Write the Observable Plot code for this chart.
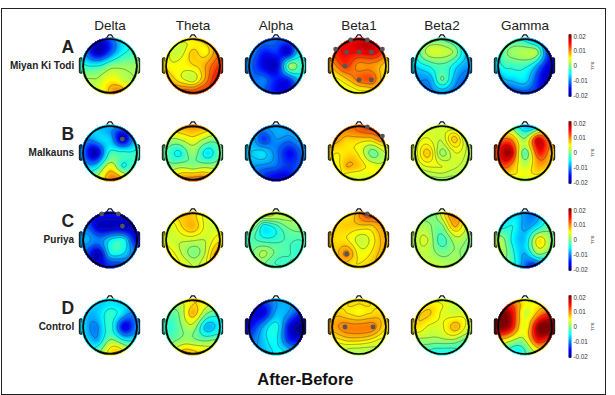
<!DOCTYPE html>
<html><head><meta charset="utf-8">
<style>
html,body{margin:0;padding:0;background:#fff}
#frame{position:absolute;left:1px;top:8px;width:603px;height:385px;border:1px solid #222;pointer-events:none}
svg{position:absolute;left:0;top:0;background:transparent}
</style>
<script src="https://cdn.jsdelivr.net/npm/d3@7"></script>
<script src="https://cdn.jsdelivr.net/npm/@observablehq/plot@0.6"></script>
</head><body><div id="chart"></div><div id="frame"></div>
<script>
const bands = ["Delta","Theta","Alpha","Beta1","Beta2","Gamma"];
const rows = ["A","B","C","D"];
const rowNames = ["Miyan Ki Todi","Malkauns","Puriya","Control"];
const electrodes = ["Fp1","Fp2","F7","F3","Fz","F4","F8","T3","C3","Cz","C4","T4","T5","P3","Pz","P4","T6","O1","O2"];
const electrodeX = [-.31,.31,-.87,-.46,0,.46,.87,-1,-.52,0,.52,1,-.87,-.46,0,.46,.87,-.31,.31];
const electrodeY = [.97,.97,.63,.52,.52,.52,.63,0,0,0,0,0,-.63,-.52,-.52,-.52,-.63,-.97,-.97];

// values in thousandths of an a.u., in the order of `electrodes`
const aDelta = [-15,-7,-11,-18,-12,-5,-3,-3,-4,0,1,1,2,2,5,3,2,4,10];
const aTheta = [5,7,5,3,7,5,10,6,5,6,9,13,9,5,3,9,14,12,13];
const aAlpha = [-11,-12,-9,-14,-13,-17,-6,-10,-15,-17,1,-4,-10,-10,-14,-14,-8,-12,-15];
const aBeta1 = [14,16,13,15,15,16,13,8,13,9,9,6,4,7,11,12,7,4,5];
const aBeta2 = [-1,-3,-2,3,3,1,-7,-7,-4,-2,-6,-9,-10,-9,-1,-8,-11,-10,-10];
const aGamma = [-3,-8,-3,1,2,1,-14,-6,-3,-3,-10,-17,-11,-7,-6,-13,-17,-13,-13];
const bDelta = [-7,-9,-7,-7,-7,-18,-8,-10,-18,-3,-3,-3,-5,-5,5,-4,-1,5,10];
const bTheta = [9,9,4,3,5,2,2,-1,-5,1,-6,-1,2,2,1,2,3,10,11];
const bAlpha = [-9,-9,-8,-13,-9,-10,-8,-7,-6,-10,-15,-10,-9,-10,-11,-13,-11,-14,-16];
const bBeta1 = [10,12,10,7,7,7,11,6,6,5,-1,3,5,8,7,5,5,4,4];
const bBeta2 = [3,3,3,4,3,7,2,3,7,1,4,2,2,4,4,3,2,1,1];
const bGamma = [-3,-7,8,9,1,16,8,13,18,-2,14,7,8,8,3,8,5,3,3];
const cDelta = [-15,-14,-13,-17,-18,-18,-17,-8,-10,-6,-5,-15,-13,-18,-6,-6,-9,-15,-13];
const cTheta = [8,5,4,6,8,4,3,4,3,3,3,6,6,3,0,3,9,4,3];
const cAlpha = [4,2,2,-5,-3,0,1,-2,-3,-3,-2,-2,0,2,-1,-2,-2,-1,-2];
const cBeta1 = [6,12,7,7,7,7,9,7,6,3,5,8,7,10,5,6,8,6,7];
const cBeta2 = [0,9,1,1,0,8,4,2,3,-3,2,0,2,2,0,1,0,3,2];
const cGamma = [-7,-10,-8,-4,-9,-6,-2,2,-4,-7,6,0,1,-3,-8,0,-3,-5,-14];
const dDelta = [-6,-6,-6,-7,-3,-6,-8,-6,-10,-3,-16,-9,-5,-8,1,-3,-3,1,7];
const dTheta = [4,6,0,1,8,1,0,-3,-1,2,-8,-5,0,1,1,0,2,8,6];
const dAlpha = [-11,-8,-15,-16,-8,-9,-12,-15,-9,-4,-16,-20,-10,-7,-5,-13,-13,-7,-5];
const dBeta1 = [6,6,6,6,5,6,6,8,10,10,10,6,4,6,6,5,3,2,2];
const dBeta2 = [4,3,5,7,4,3,3,6,4,4,8,3,0,1,1,1,-2,-4,-4];
const dGamma = [8,4,18,15,3,8,10,20,16,4,20,20,3,2,2,14,10,-5,2];

const maps = {
  A:[aDelta,aTheta,aAlpha,aBeta1,aBeta2,aGamma],
  B:[bDelta,bTheta,bAlpha,bBeta1,bBeta2,bGamma],
  C:[cDelta,cTheta,cAlpha,cBeta1,cBeta2,cGamma],
  D:[dDelta,dTheta,dAlpha,dBeta1,dBeta2,dGamma]
};
// significant electrodes per [row, band]
const marked = [
  ["A","Beta1",["Fp1","Fp2","F7","F3","Fz","F4","F8","C3","Pz","P4"]],
  ["B","Delta",["F4"]],
  ["B","Beta1",["Fp2","F8"]],
  ["C","Delta",["Fp1","Fp2","F4"]],
  ["C","Beta1",["Fp2","P3"]],
  ["D","Beta1",["C3","C4"]]
];
const colorbarTicks = [0.02,0.01,0,-0.01,-0.02];
const contourFractions = [.1,.3,.5,.7,.9]; // levels relative to each map's own range
const jetDomain = [-.02,-.015,-.005,.005,.015,.02];
const jetRange = ["#00007f","#0000ff","#00ffff","#ffff00","#ff0000","#7f0000"];

const samples = rows.flatMap(r => bands.flatMap((b,i) => {
  const vals = maps[r][i], lo = d3.min(vals), hi = d3.max(vals);
  return electrodes.map((e,k) => ({
    row:r, band:b, e, x:electrodeX[k], y:electrodeY[k], v:vals[k]/1000, level:(vals[k]-lo)/(hi-lo)
  }));
}));
const ears = rows.flatMap(r => bands.flatMap((b,i) => [7,11].map(k => ({
  row:r, band:b, side:k===7?-1:1, v:maps[r][i][k]/1000
}))));
const dots = marked.flatMap(([row,band,list]) => list.map(e => {
  const k = electrodes.indexOf(e); return {row,band,x:electrodeX[k],y:electrodeY[k]};
}));

// Biharmonic spline over the electrodes (what griddata "v4" does), masked to the head.
const EXT = 1.1;
function solve(A,b){
  const n=b.length; A=A.map(r=>r.slice()); b=b.slice();
  for(let i=0;i<n;i++){
    let p=i; for(let j=i+1;j<n;j++) if(Math.abs(A[j][i])>Math.abs(A[p][i])) p=j;
    [A[i],A[p]]=[A[p],A[i]]; [b[i],b[p]]=[b[p],b[i]];
    for(let j=i+1;j<n;j++){const f=A[j][i]/A[i][i]; for(let k=i;k<n;k++) A[j][k]-=f*A[i][k]; b[j]-=f*b[i];}
  }
  for(let i=n-1;i>=0;i--){for(let k=i+1;k<n;k++) b[i]-=A[i][k]*b[k]; b[i]/=A[i][i];}
  return b;
}
const green = d => { const q=d*d; return q<=1e-12?0:q*(Math.log(Math.sqrt(q))-1); };
const spline = maxR => (index,w,h,X,Y,V) => {
  const out = new Float64Array(w*h).fill(NaN);
  const ux = i => X[i]/w*2*EXT-EXT, uy = i => Y[i]/h*2*EXT-EXT;
  const pts = Array.from(index,i=>[ux(i),uy(i),+V[i]]);
  const A = pts.map(p=>pts.map(q=>green(Math.hypot(p[0]-q[0],p[1]-q[1]))));
  const wt = solve(A,pts.map(p=>p[2]));
  for(let j=0;j<h;j++) for(let i=0;i<w;i++){
    const x=(i+.5)/w*2*EXT-EXT, y=(j+.5)/h*2*EXT-EXT;
    if(Math.hypot(x,y)>maxR) continue;
    let s=0; for(let k=0;k<pts.length;k++) s+=wt[k]*green(Math.hypot(x-pts[k][0],y-pts[k][1]));
    out[j*w+i]=s;
  }
  return out;
};

const grid = {x:"x",y:"y",fx:"band",fy:"row",x1:-EXT,x2:EXT,y1:-EXT,y2:EXT};
const cbar = d3.range(-0.02,0.0201,0.0005);
const BARSCALE = 1.14/0.02, TICKSCALE = 1.1/0.02;

const chart = Plot.plot({
  width:615,height:395,
  marginLeft:67.4,marginRight:48.4,marginTop:20.2,marginBottom:24.2,
  fx:{domain:bands,axis:null,padding:0},
  fy:{domain:rows,axis:null,padding:0},
  x:{domain:[-1.541,1.541],axis:null},
  y:{domain:[-1.622,1.622],axis:null},
  color:{type:"linear",domain:jetDomain,range:jetRange,clamp:true,interpolate:"rgb"},
  style:{fontFamily:"Liberation Sans, Arial, sans-serif",background:"transparent",overflow:"visible"},
  marks:[
    Plot.rect(ears,{fx:"band",fy:"row",x1:d=>d.side*1,x2:d=>d.side*1.12,y1:-.29,y2:.29,fill:"v"}),
    Plot.rect(ears,{fx:"band",fy:"row",x1:d=>d.side*1,x2:d=>d.side*1.12,y1:-.29,y2:.29,fill:"#111",fillOpacity:.55,stroke:"#111",strokeWidth:1,r:1.5}),
    Plot.line([[-.17,.98],[-.05,1.16],[.05,1.16],[.17,.98]],{x:"0",y:"1",stroke:"#111",strokeWidth:1.2}),
    Plot.raster(samples,{...grid,fill:"v",width:64,height:64,interpolate:spline(1.06),imageRendering:"auto"}),
    Plot.contour(samples,{...grid,value:"level",width:120,height:120,interpolate:spline(.985),thresholds:contourFractions,
      fill:"none",stroke:"#333",strokeWidth:.55,strokeOpacity:.8}),
    Plot.dot([0],{x:()=>0,y:()=>0,r:27,fill:"none",stroke:"#000",strokeWidth:1.7}),
    Plot.dot(dots,{x:"x",y:"y",fx:"band",fy:"row",r:2.4,fill:"#555"}),
    Plot.text(bands,{fx:d=>d,fy:()=>"A",x:()=>0,y:()=>1.52,text:d=>d,fontSize:13.5,fill:"#222"}),
    Plot.text(rows,{fx:()=>"Delta",fy:d=>d,x:()=>-1.33,y:()=>.68,text:d=>d,fontSize:17.5,fontWeight:"bold",textAnchor:"end",fill:"#222"}),
    Plot.text(rows,{fx:()=>"Delta",fy:d=>d,x:()=>-1.33,y:()=>0,text:(d,i)=>rowNames[i],fontSize:10,fontWeight:"bold",textAnchor:"end",fill:"#222"}),
    Plot.text(["After-Before"],{fx:()=>"Alpha",fy:()=>"D",x:()=>1.09,y:()=>-1.96,text:d=>d,fontSize:16.5,fontWeight:"bold",fill:"#111"}),
    ...rows.flatMap(r=>[
      Plot.rect(cbar,{fx:()=>"Gamma",fy:()=>r,x1:()=>1.64,x2:()=>1.74,y1:d=>(d-.0005)*BARSCALE,y2:d=>(d+.0005)*BARSCALE,fill:d=>d}),
      Plot.text(colorbarTicks,{fx:()=>"Gamma",fy:()=>r,x:()=>1.8,y:d=>d*TICKSCALE,text:d=>d===0?"0":String(d),fontSize:6.3,textAnchor:"start",fill:"#333"}),
      Plot.text(["a.u."],{fx:()=>"Gamma",fy:()=>r,x:()=>2.52,y:()=>0,text:d=>d,fontSize:5.5,rotate:90,fill:"#444"})
    ])
  ]
});
document.getElementById("chart").appendChild(chart);
</script></body></html>
